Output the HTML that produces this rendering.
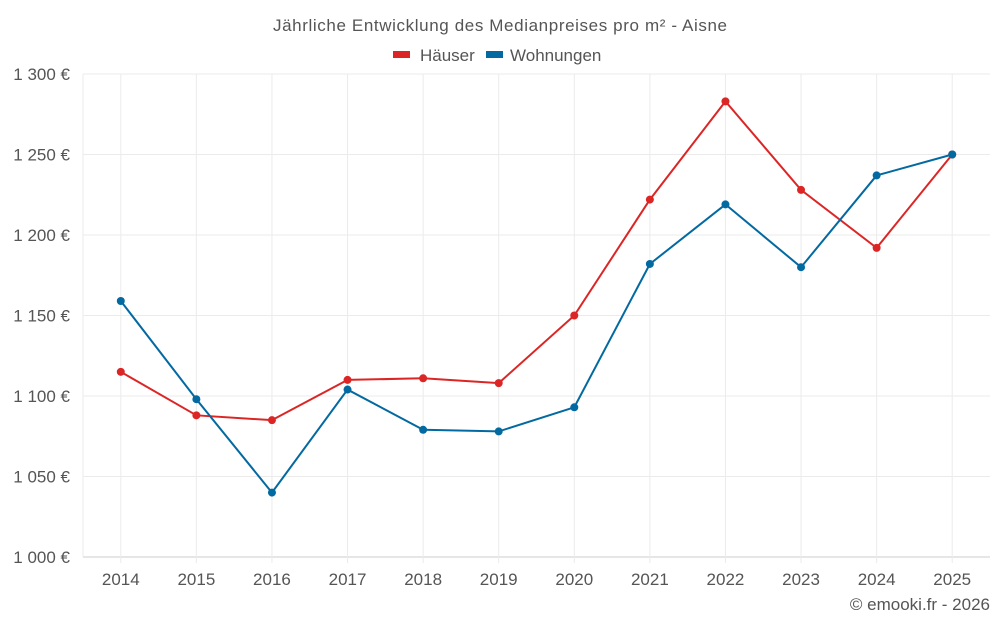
<!DOCTYPE html>
<html><head><meta charset="utf-8"><style>
body{margin:0;background:#fff;font-family:"Liberation Sans",sans-serif;}
svg text{font-family:"Liberation Sans",sans-serif;}
</style></head><body>
<svg id="c" width="1000" height="625">
<text x="500" y="31" text-anchor="middle" font-size="17" fill="#555" textLength="454">Jährliche Entwicklung des Medianpreises pro m² - Aisne</text>
<g>
<rect x="393" y="51" width="17" height="7" fill="#dc2626"/>
<text x="420" y="61" font-size="17" fill="#555">Häuser</text>
<rect x="486" y="51" width="17" height="7" fill="#0369a1"/>
<text x="510" y="61" font-size="17" fill="#555">Wohnungen</text>
</g>
<g id="grid"></g><g id="axes"></g><g id="series"></g>
<text x="990" y="610" text-anchor="end" font-size="17" fill="#555">© emooki.fr - 2026</text>
</svg>
<script>
const categories=["2014","2015","2016","2017","2018","2019","2020","2021","2022","2023","2024","2025"];
const haeuser=[1115,1088,1085,1110,1111,1108,1150,1222,1283,1228,1192,1250];
const wohnungen=[1159,1098,1040,1104,1079,1078,1093,1182,1219,1180,1237,1250];
const yTicks=[1000,1050,1100,1150,1200,1250,1300];
const yLabels=["1 000 €","1 050 €","1 100 €","1 150 €","1 200 €","1 250 €","1 300 €"];
const NS="http://www.w3.org/2000/svg";
const L=83,R=990,T=74,B=557,yMin=1000,yMax=1300;
const step=(R-L)/categories.length;
function x(i){return L+step*(i+0.5);}
function y(v){return B-(v-yMin)/(yMax-yMin)*(B-T);}
function mk(t,a,p){const e=document.createElementNS(NS,t);for(const k in a)e.setAttribute(k,a[k]);p.appendChild(e);return e;}
const g=document.getElementById('grid'),ax=document.getElementById('axes'),s=document.getElementById('series');
yTicks.forEach((v,i)=>{
 const ln=mk('line',{x1:L,x2:R,y1:y(v),y2:y(v),stroke:i==0?'#ccc':'#ebebeb'},g);
 
 
 const t=mk('text',{x:70,y:y(v)+6,'text-anchor':'end','font-size':17,fill:'#555'},ax);
 t.textContent=yLabels[i];
 
 
});
const lv=mk('line',{x1:L,x2:L,y1:T,y2:B,stroke:'#ebebeb'},g);


categories.forEach((c,i)=>{
 const ln=mk('line',{x1:x(i),x2:x(i),y1:T,y2:B+6,stroke:'#ebebeb'},g);
 
 
 const t=mk('text',{x:x(i),y:585,'text-anchor':'middle','font-size':17,fill:'#555'},ax);
 t.textContent=c;
 
 
});
function draw(data,color,name){
 const p=mk('polyline',{points:data.map((v,i)=>x(i)+','+y(v)).join(' '),fill:'none',stroke:color,'stroke-width':2},s);
 
 
 data.forEach((v,i)=>{
  const c=mk('circle',{cx:x(i),cy:y(v),r:4,fill:color},s);
  
  
 });
}
draw(haeuser,'#dc2626','haeuser');
draw(wohnungen,'#0369a1','wohnungen');
</script>
</body></html>
